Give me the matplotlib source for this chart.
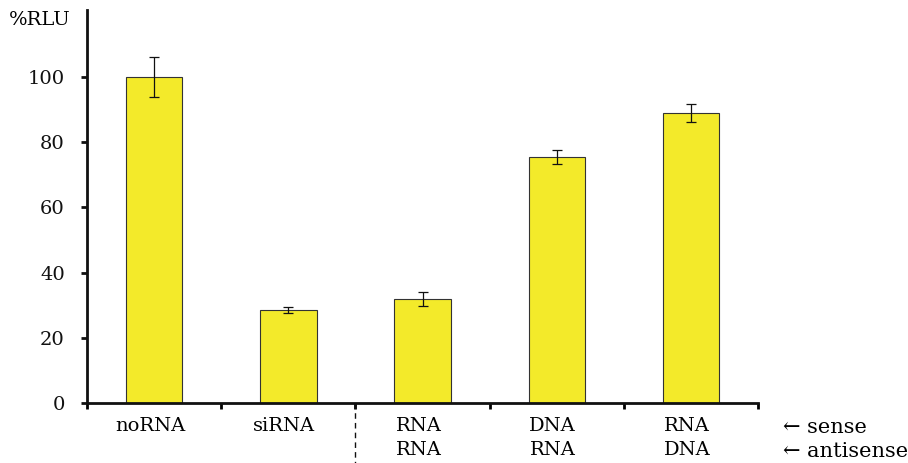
import matplotlib.pyplot as plt
from matplotlib.transforms import blended_transform_factory

# values
categories = ["noRNA", "siRNA", "RNA\nRNA", "DNA\nRNA", "RNA\nDNA"]
rlu = [100, 28.5, 32, 75.5, 89]
rlu_err = [6, 0.8, 2.2, 2.2, 2.8]
yticks = [0, 20, 40, 60, 80, 100]

plt.rcParams['font.family'] = ['DejaVu Serif']

fig = plt.figure(figsize=(9.08, 4.63), dpi=100)
ax = fig.add_axes([0.0958, 0.1296, 0.835 - 0.0958, 0.978 - 0.1296])

x = range(len(categories))
ax.bar(x, rlu, width=0.42, color='#F3EA2A', edgecolor='#333333', linewidth=0.8,
       yerr=rlu_err, capsize=3.5, error_kw=dict(elinewidth=0.9, capthick=0.9, ecolor='#111111'))

ax.set_xlim(-0.5, len(categories) - 0.5)
ax.set_ylim(0, 120.5)

for side in ['top', 'right']:
    ax.spines[side].set_visible(False)
for side in ['left', 'bottom']:
    ax.spines[side].set_linewidth(2)
    ax.spines[side].set_color('#111111')

ax.set_yticks(yticks)
ax.tick_params(axis='y', length=4, width=2, labelsize=14, pad=12, colors='#111111')

# boundary ticks (major) and category labels (minor)
ax.set_xticks([i - 0.5 for i in range(len(categories) + 1)])
ax.set_xticklabels([])
ax.set_xticks([i - 0.03 for i in x], minor=True)
ax.set_xticklabels(categories, minor=True, fontsize=14, linespacing=1.45, va='top')
ax.tick_params(axis='x', which='major', length=4, width=2, direction='out')
ax.tick_params(axis='x', which='minor', length=0, pad=10)

# dashed separator below the axis
trans = blended_transform_factory(ax.transData, ax.transAxes)
ax.plot([1.5, 1.5], [0, -0.16], transform=trans, clip_on=False,
        color='#111111', linestyle=(0, (4, 3)), linewidth=1)

fig.text(0.044, 0.957, "%RLU", fontsize=14, ha='center', va='center')
fig.text(0.862, 0.077, "\u2190 sense", fontsize=15, ha='left', va='center')
fig.text(0.862, 0.024, "\u2190 antisense", fontsize=15, ha='left', va='center')

fig.savefig("out.png", dpi=100, facecolor='white')
